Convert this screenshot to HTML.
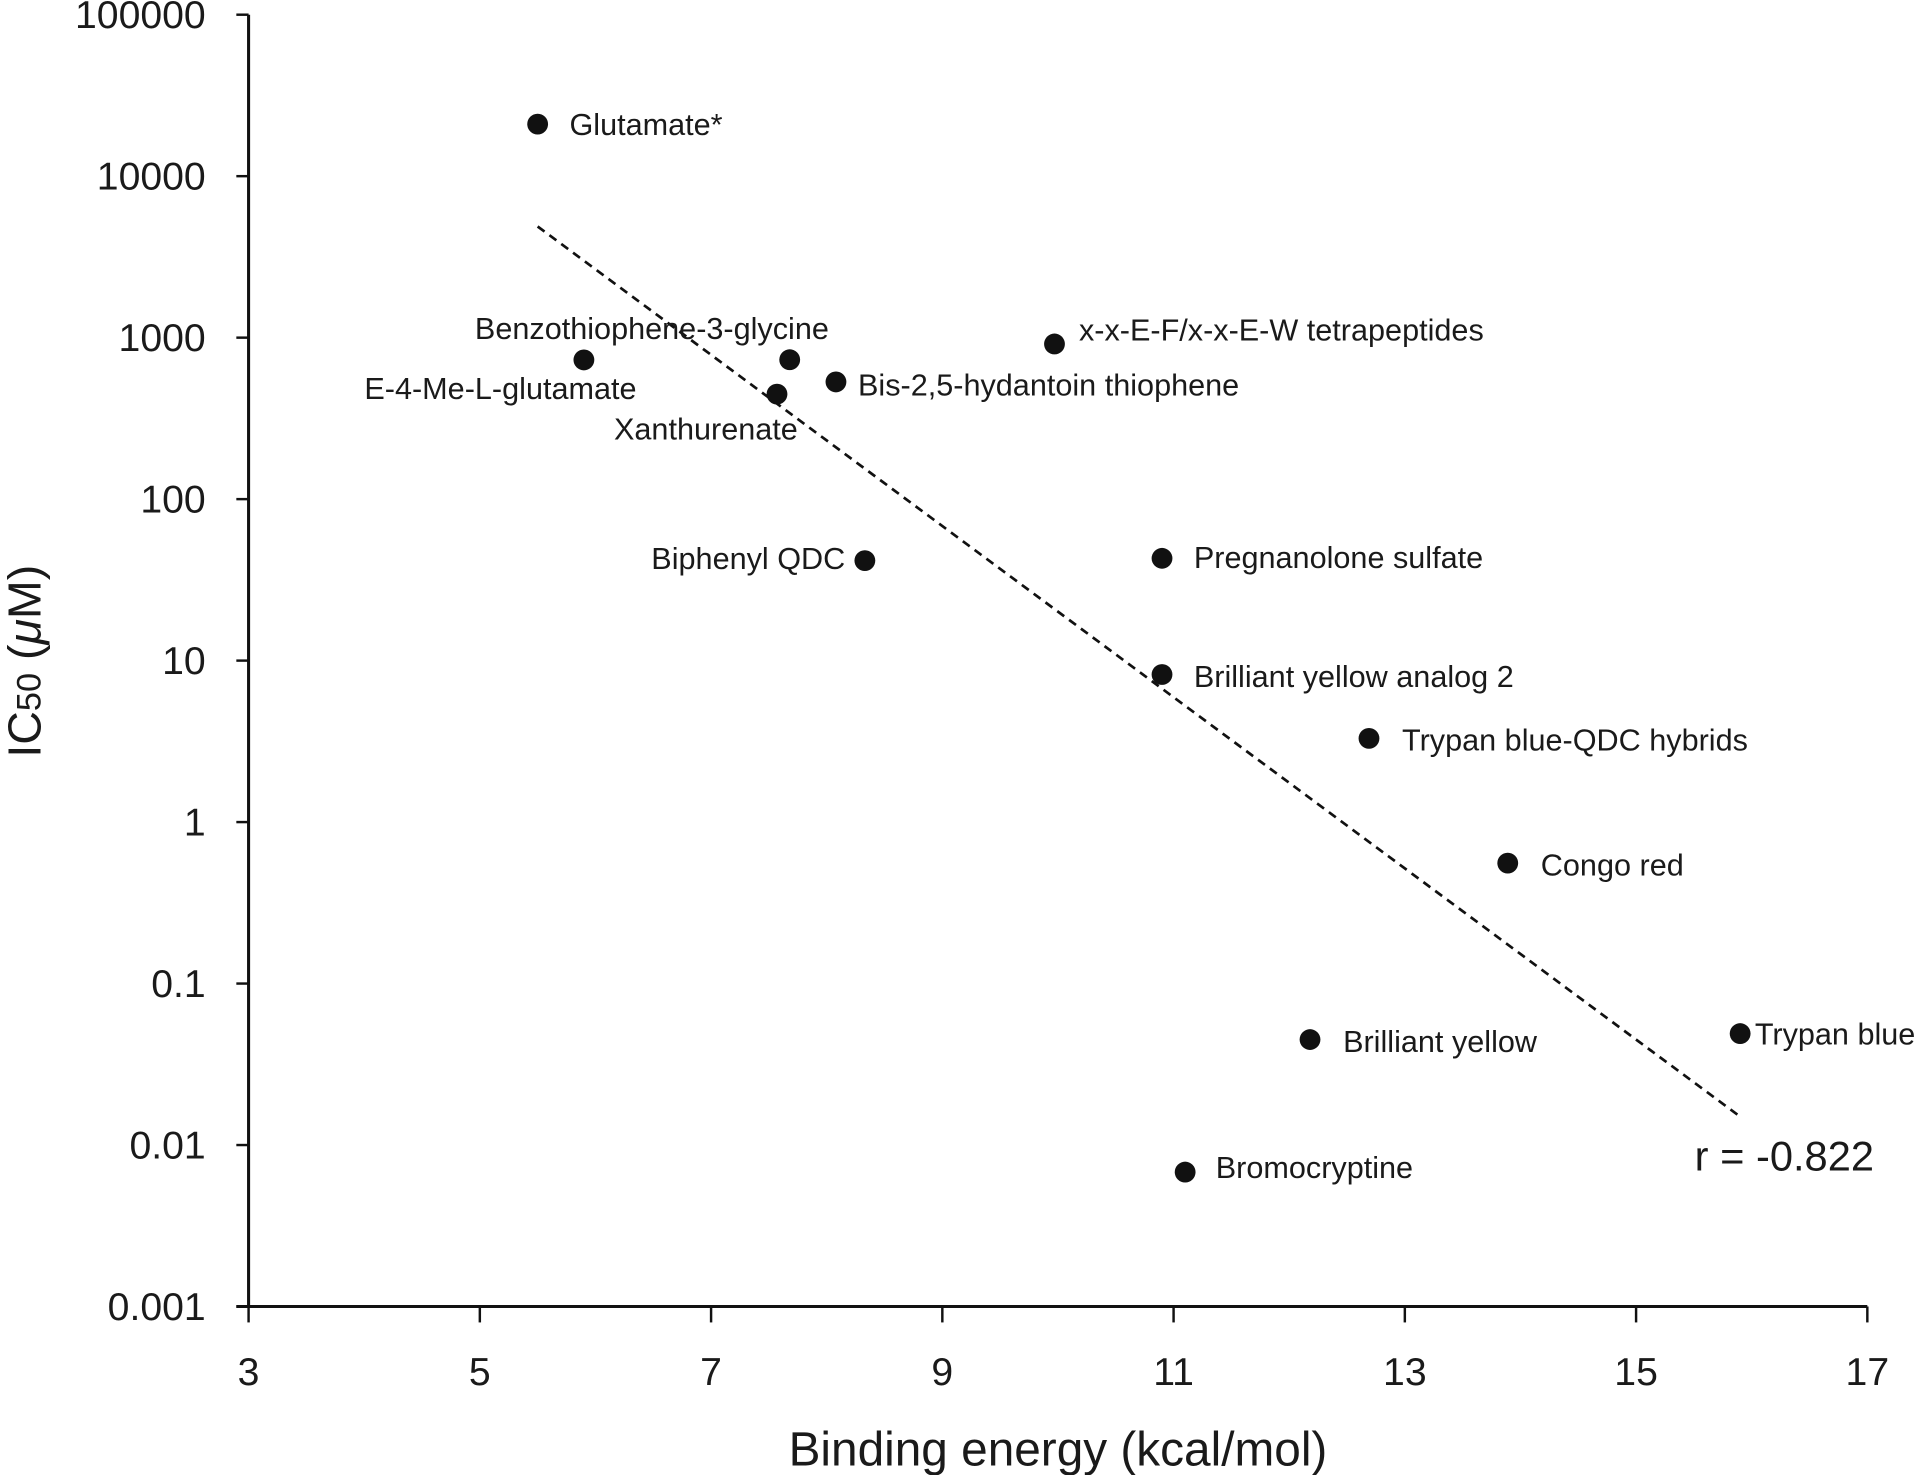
<!DOCTYPE html>
<html><head><meta charset="utf-8"><style>
html,body{margin:0;padding:0;background:#fff}
svg{display:block}
text{font-family:"Liberation Sans",sans-serif;fill:#1a1a1a}
</style></head><body>
<svg id="chart" width="1920" height="1475" viewBox="0 0 1568 1204.6" xmlns="http://www.w3.org/2000/svg">
<g id="axes"></g>
<g id="trend"></g>
<g id="points"></g>
<text x="1384" y="956" font-size="34">r = -0.822</text>
<text x="864" y="1197" font-size="39" text-anchor="middle">Binding energy (kcal/mol)</text>
<text transform="translate(33,540) rotate(-90)" font-size="38" text-anchor="middle">IC<tspan font-size="28">50</tspan> (<tspan font-style="italic">μ</tspan>M)</text>
</svg>
<script>
const names=["Glutamate*","E-4-Me-L-glutamate","Benzothiophene-3-glycine","Xanthurenate","Bis-2,5-hydantoin thiophene","x-x-E-F/x-x-E-W tetrapeptides","Biphenyl QDC","Pregnanolone sulfate","Brilliant yellow analog 2","Trypan blue-QDC hybrids","Congo red","Brilliant yellow","Trypan blue","Bromocryptine"];
const energy=[5.5,5.9,7.68,7.57,8.08,9.97,8.33,10.9,10.9,12.69,13.89,12.18,15.9,11.1];
const ic50=[21000,728,730,447,532,914,41.6,43,8.2,3.3,0.557,0.045,0.049,0.0068];
const trendX=[5.5,15.9];
const trendY=[4880,0.015];
const xTicks=[3,5,7,9,11,13,15,17];
const yTicks=[0.001,0.01,0.1,1,10,100,1000,10000,100000];
const yTickLabels=["0.001","0.01","0.1","1","10","100","1000","10000","100000"];
// label layout (styling offsets, not data)
const labelLayout=[[26,9,"start"],[43,32,"end"],[32,-17,"end"],[17,37,"end"],[18,11,"start"],[20,-3,"start"],[-16,7,"end"],[26,8,"start"],[26,10,"start"],[27,10,"start"],[27,10,"start"],[27,10,"start"],[12,9,"start"],[25,5,"start"]];
const X0=203,X1=1525,Y0=1067,Y1=12;
const xs=v=>X0+(v-3)/(17-3)*(X1-X0);
const ys=v=>Y0-(Math.log10(v)+3)/8*(Y0-Y1);
const NS="http://www.w3.org/2000/svg";
function mk(tag,attrs,parent){const e=document.createElementNS(NS,tag);for(const k in attrs)e.setAttribute(k,attrs[k]);parent.appendChild(e);return e;}
const axes=document.getElementById('axes');
let l=mk('line',{x1:X0,y1:Y1,x2:X0,y2:Y0,stroke:'#111','stroke-width':2.5},axes);


l=mk('line',{x1:X0-10,y1:Y0,x2:X1,y2:Y0,stroke:'#111','stroke-width':2.5},axes);


xTicks.forEach(v=>{
  const t=mk('line',{x1:xs(v),y1:Y0,x2:xs(v),y2:Y0+13,stroke:'#111','stroke-width':2},axes);
  
  
  const tx=mk('text',{x:xs(v),y:1131,'font-size':32,'text-anchor':'middle'},axes);
  tx.textContent=v;
  
  
});
yTicks.forEach((v,i)=>{
  const t=mk('line',{x1:X0-10,y1:ys(v),x2:X0,y2:ys(v),stroke:'#111','stroke-width':2},axes);
  
  
  const tx=mk('text',{x:168,y:ys(v)+11,'font-size':32,'text-anchor':'end'},axes);
  tx.textContent=yTickLabels[i];
  
  
});
const tr=document.getElementById('trend');
const tl=mk('line',{x1:xs(trendX[0]),y1:ys(trendY[0]),x2:xs(trendX[1]),y2:ys(trendY[1]),stroke:'#111','stroke-width':2.2,'stroke-dasharray':'7 5'},tr);


const pts=document.getElementById('points');
names.forEach((n,i)=>{
  const cx=xs(energy[i]),cy=ys(ic50[i]);
  const c=mk('circle',{cx:cx,cy:cy,r:8.5,fill:'#111'},pts);
  
  
  const L=labelLayout[i];
  const t=mk('text',{x:cx+L[0],y:cy+L[1],'font-size':25,'text-anchor':L[2]},pts);
  t.textContent=n;
  
  
});
</script>
</body></html>
